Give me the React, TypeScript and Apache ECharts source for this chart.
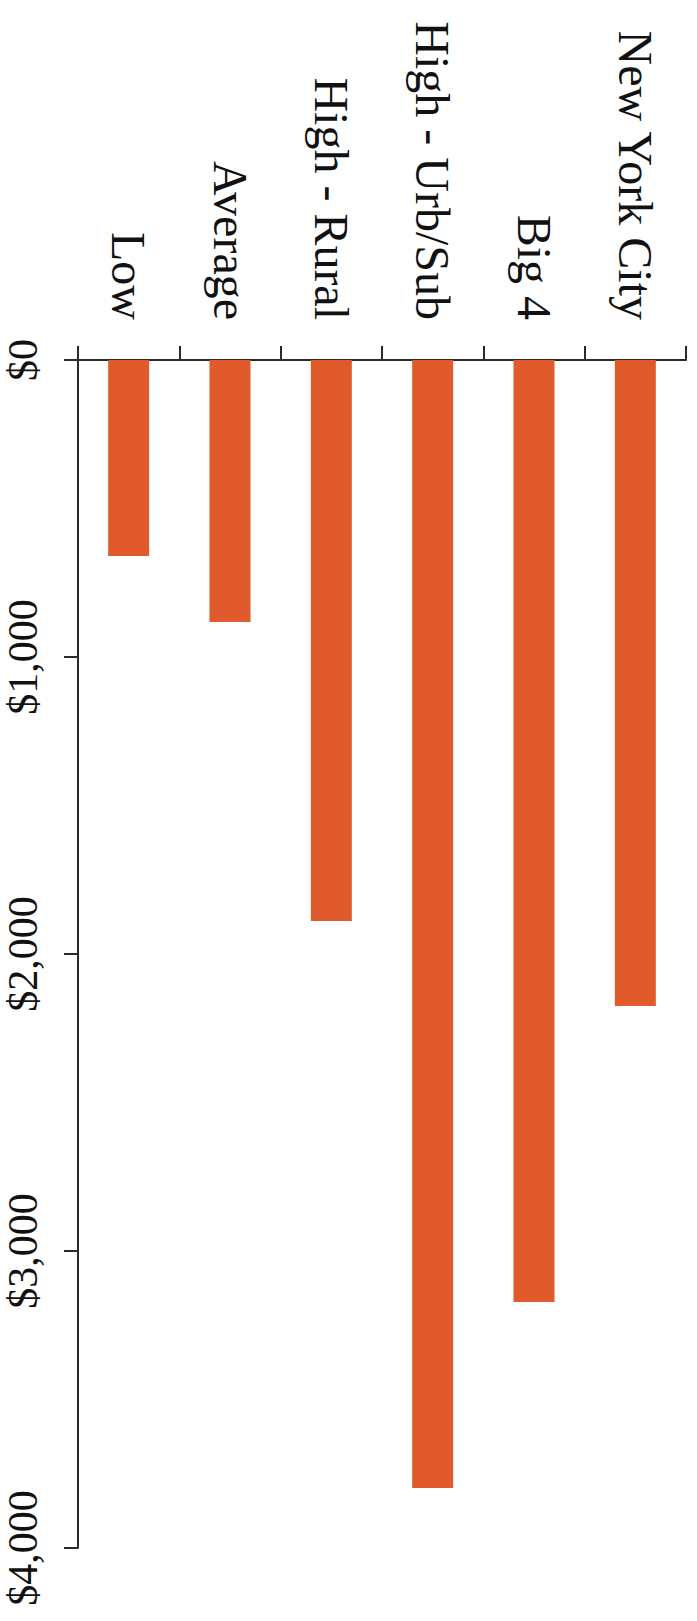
import React, { useEffect, useRef } from "react";
import * as echarts from "echarts";

const categories = ["Low", "Average", "High - Rural", "High - Urb/Sub", "Big 4", "New York City"];
const values = [660, 882, 1889, 3798, 3172, 2175];
const valueMin = 0;
const valueMax = 4000;
const valueInterval = 1000;

const formatDollar = (v: number) => "$" + v.toLocaleString("en-US");

export default function App() {
  const ref = useRef<HTMLDivElement>(null);
  useEffect(() => {
    document.body.style.margin = "0";
    if (!ref.current) return;
    const chart = echarts.init(ref.current, null, { renderer: "svg" });
    const axisColor = "#2a2a2a";
    chart.setOption({
      animation: false,
      backgroundColor: "#ffffff",
      grid: { left: 78, top: 360, right: 11, bottom: 73, containLabel: false },
      xAxis: {
        type: "category",
        data: categories,
        position: "top",
        boundaryGap: true,
        axisLine: { show: true, onZero: false, lineStyle: { color: axisColor, width: 2 } },
        axisTick: { show: true, length: 14, inside: false, alignWithLabel: false, lineStyle: { color: axisColor, width: 2 } },
        axisLabel: {
          rotate: 90,
          margin: 40,
          interval: 0,
          color: "#111",
          fontFamily: "Liberation Serif",
          fontSize: 48,
        },
        splitLine: { show: false },
      },
      yAxis: {
        type: "value",
        inverse: true,
        position: "left",
        min: valueMin,
        max: valueMax,
        interval: valueInterval,
        axisLine: { show: true, onZero: false, lineStyle: { color: axisColor, width: 2 } },
        axisTick: { show: true, length: 14, inside: false, lineStyle: { color: axisColor, width: 2 } },
        axisLabel: {
          rotate: 90,
          margin: 34,
          color: "#111",
          fontFamily: "Liberation Serif",
          fontSize: 42,
          formatter: (v: number) => formatDollar(v),
        },
        splitLine: { show: false },
      },
      series: [
        {
          type: "bar",
          data: values,
          barWidth: 41,
          itemStyle: { color: "#E05A2B" },
        },
      ],
    });
    return () => chart.dispose();
  }, []);
  return <div ref={ref} style={{ width: 697, height: 1621 }} />;
}
